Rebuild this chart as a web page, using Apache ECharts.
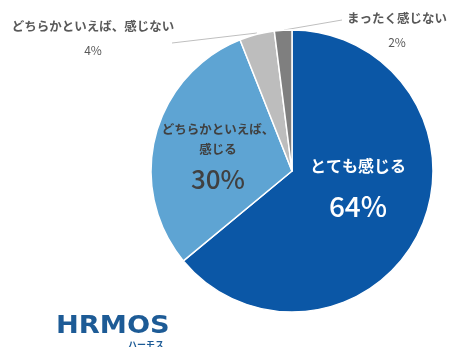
<!DOCTYPE html>
<html><head><meta charset="utf-8">
<script src="https://cdn.jsdelivr.net/npm/echarts@6/dist/echarts.min.js"></script>
<style>html,body{margin:0;padding:0;background:#fff}#c{width:451px;height:347px}</style>
</head><body><div id="c"></div>
<script>
const categories = ['とても感じる', 'どちらかといえば、感じる', 'どちらかといえば、感じない', 'まったく感じない'];
const values = [64, 30, 4, 2];
const colors = ['#0b57a6', '#5ea4d3', '#bdbdbd', '#7f7f7f'];
const FONT = '"Noto Sans CJK JP", "Noto Sans", sans-serif';

const chart = echarts.init(document.getElementById('c'));
const labelPos = [
  {x: 358, y: 186, align: 'center', verticalAlign: 'middle'},
  {x: 218, y: 159, align: 'center', verticalAlign: 'middle'},
  {x: 93, y: 38, align: 'center', verticalAlign: 'middle', labelLinePoints: [[257, 33], [172, 43], [172, 43]]},
  {x: 397, y: 30, align: 'center', verticalAlign: 'middle', labelLinePoints: [[284, 30], [342, 20], [342, 20]]}
];
const data = categories.map((n, i) => {
  const d = {name: n, value: values[i], itemStyle: {color: colors[i]}};
  if (i === 0) {
    d.label = {position: 'inside', overflow: 'none', formatter: '{a|とても感じる}\n{b|{d}%}', rich: {
      a: {color: '#fff', fontSize: 16, fontWeight: 'bold', fontFamily: FONT, lineHeight: 40},
      b: {color: '#fff', fontSize: 28, fontWeight: 500, fontFamily: FONT, lineHeight: 40}}};
    d.labelLine = {show: false};
  } else if (i === 1) {
    d.label = {position: 'inside', overflow: 'none', formatter: '{a|どちらかといえば、}\n{a|感じる}\n{b|{d}%}', rich: {
      a: {color: '#404040', fontSize: 12.5, fontWeight: 'bold', fontFamily: FONT, lineHeight: 20},
      b: {color: '#404040', fontSize: 26, fontWeight: 500, fontFamily: FONT, lineHeight: 40}}};
    d.labelLine = {show: false};
  } else {
    d.label = {position: 'outside', overflow: 'none', width: 300, formatter: '{a|' + n + '}\n{b|{d}%}', rich: {
      a: {color: '#595959', fontSize: 12.5, fontWeight: 'bold', fontFamily: FONT, lineHeight: 24},
      b: {color: '#595959', fontSize: 12, fontFamily: FONT, lineHeight: 24}}};
    d.labelLine = {show: true, lineStyle: {color: '#bfbfbf', width: 1}};
  }
  return d;
});

chart.setOption({
  animation: false,
  series: [{
    type: 'pie',
    center: [292, 171],
    radius: [0, 141],
    startAngle: 90,
    clockwise: true,
    avoidLabelOverlap: false,
    itemStyle: {borderColor: '#fff', borderWidth: 1.5},
    label: {show: true, overflow: 'none'},
    labelLayout: function (p) { return labelPos[p.dataIndex]; },
    data: data
  }],
  graphic: [
    {type: 'text', x: 56, y: 314, scaleX: 1.09, style: {text: 'HRMOS', fill: '#1d5b96', font: 'bold 25px "DejaVu Sans", sans-serif'}},
    {type: 'text', left: 128, top: 340, style: {text: 'ハーモス', fill: '#1d5b96', font: 'bold 9px ' + FONT}}
  ]
});
</script></body></html>
